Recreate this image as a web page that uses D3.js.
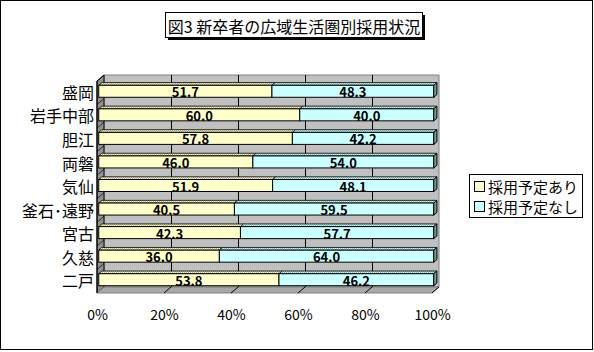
<!DOCTYPE html>
<html><head><meta charset="utf-8">
<script src="https://cdn.jsdelivr.net/npm/d3@7"></script>
<style>
html,body{margin:0;padding:0;background:#fff;}
svg{display:block;}
text{font-family:"Noto Sans CJK JP","Noto Sans",sans-serif;}
</style></head>
<body>
<svg id="c" width="594" height="352"></svg>
<script>
const categories = ["盛岡","岩手中部","胆江","両磐","気仙","釜石･遠野","宮古","久慈","二戸"];
const seriesNames = ["採用予定あり","採用予定なし"];
const withPlan = [51.7,60.0,57.8,46.0,51.9,40.5,42.3,36.0,53.8];
const withoutPlan = [48.3,40.0,42.2,54.0,48.1,59.5,57.7,64.0,46.2];
const xTicks = [0,20,40,60,80,100];
const title = "図3 新卒者の広域生活圏別採用状況";

const colors = ["#FFFFCC","#CCFFFF"];
const topColors = ["#B8B890","#90B8B8"];
const sideColors = ["#A0A07A","#6E9C9C"];

const svg = d3.select("#c");
svg.append("rect").attr("x",0.5).attr("y",0.5).attr("width",592).attr("height",349)
  .attr("fill","#fff").attr("stroke","#000");

const x = d3.scaleLinear().domain([0,100]).range([97,432]);
const y = d3.scaleBand().domain(categories).range([81,293]);
const DX = 7, DY = -6;
const top0 = y.range()[0], bot0 = y.range()[1];

const defs = svg.append("defs");
[0,1].forEach(i=>{
  const p = defs.append("pattern").attr("id","pt"+i).attr("width",2).attr("height",2)
    .attr("patternUnits","userSpaceOnUse");
  p.append("rect").attr("width",2).attr("height",2).attr("fill",colors[i]);
  p.append("rect").attr("width",1).attr("height",1).attr("fill",topColors[i]);
  p.append("rect").attr("x",1).attr("y",1).attr("width",1).attr("height",1).attr("fill",topColors[i]);
});

const poly = pts => "M"+pts.map(p=>p.join(",")).join("L")+"Z";

svg.append("path").attr("d",poly([[x(0)+DX,top0+DY],[x(100)+DX,top0+DY],[x(100)+DX,bot0+DY],[x(0)+DX,bot0+DY]]))
  .attr("fill","#C0C0C0").attr("stroke","#808080");
svg.append("path").attr("d",poly([[x(0),top0],[x(0)+DX,top0+DY],[x(0)+DX,bot0+DY],[x(0),bot0]]))
  .attr("fill","#909090").attr("stroke","#000");
svg.append("path").attr("d",poly([[x(0),bot0],[x(0)+DX,bot0+DY],[x(100)+DX,bot0+DY],[x(100),bot0]]))
  .attr("fill","#A8A8A8").attr("stroke","#808080");
xTicks.slice(1,-1).forEach(t=>{
  svg.append("line").attr("x1",x(t)+DX+0.5).attr("x2",x(t)+DX+0.5)
    .attr("y1",top0+DY).attr("y2",bot0+DY).attr("stroke","#000");
});
xTicks.slice(1).forEach(t=>{
  svg.append("line").attr("x1",x(t)).attr("y1",bot0).attr("x2",x(t)+DX).attr("y2",bot0+DY)
    .attr("stroke","#000");
});
categories.forEach(c=>{
  const yy = y(c);
  svg.append("line").attr("x1",x(0)).attr("y1",yy).attr("x2",x(0)+DX).attr("y2",yy+DY)
    .attr("stroke","#000").attr("stroke-width",0.7);
});
svg.append("line").attr("x1",x(0)).attr("x2",x(0)).attr("y1",top0).attr("y2",bot0).attr("stroke","#000");

const f0 = 0.25, f1 = 0.7;
const bh = 12;
const rows = categories.map((c,i)=>({c, vals:[withPlan[i],withoutPlan[i]]}));
const g = svg.append("g");
rows.forEach(r=>{
  const cy = y(r.c) + y.bandwidth()/2;
  let acc = 0;
  r.vals.forEach((v,si)=>{
    const x0 = x(acc)+DX*f0, x1 = x(acc+v)+DX*f0;
    const yT = cy - bh/2 + DY*f0, yB = cy + bh/2 + DY*f0;
    const ox = DX*(f1-f0), oy = DY*(f1-f0);
    g.append("path").attr("d",poly([[x0,yT],[x0+ox,yT+oy],[x1+ox,yT+oy],[x1,yT]]))
      .attr("fill","url(#pt"+si+")").attr("stroke","#000").attr("stroke-width",0.8);
    g.append("rect").attr("x",x0).attr("y",yT).attr("width",x1-x0).attr("height",bh)
      .attr("fill",colors[si]).attr("stroke","#000").attr("stroke-width",1);
    if(si===1){
      g.append("path").attr("d",poly([[x1,yT],[x1+ox,yT+oy],[x1+ox,yB+oy],[x1,yB]]))
        .attr("fill",sideColors[si]).attr("stroke","#000").attr("stroke-width",1);
    }
    g.append("text").attr("x",(x0+x1)/2).attr("y",cy+DY*f0+0.5)
      .attr("text-anchor","middle").attr("dominant-baseline","central")
      .attr("font-size",13).attr("font-weight","bold").attr("fill","#000")
      .text(v.toFixed(1));
    acc += v;
  });
});

const ya = svg.append("g").attr("transform",`translate(${x(0)-3},1)`)
  .call(d3.axisLeft(y).tickSize(0).tickPadding(0));
ya.select(".domain").remove();
ya.selectAll("text").attr("font-size",16).attr("fill","#000")
  .style("font-family",'"Noto Sans CJK JP",sans-serif');

const xa = svg.append("g").attr("transform",`translate(0,${bot0+14})`)
  .call(d3.axisBottom(x).tickValues(xTicks).tickSize(0).tickFormat(d=>d+"%"));
xa.select(".domain").remove();
xa.selectAll("text").attr("font-size",14).attr("fill","#000")
  .style("font-family",'"Noto Sans CJK JP",sans-serif');

const tb = {x:165,y:12,w:257,h:25};
svg.append("rect").attr("x",tb.x+3).attr("y",tb.y+3).attr("width",tb.w).attr("height",tb.h).attr("fill","#000");
svg.append("rect").attr("x",tb.x+0.5).attr("y",tb.y+0.5).attr("width",tb.w).attr("height",tb.h)
  .attr("fill","#fff").attr("stroke","#000");
svg.append("text").attr("x",tb.x+tb.w/2+0.5).attr("y",tb.y+tb.h/2+1).attr("text-anchor","middle")
  .attr("dominant-baseline","central").attr("font-size",16).attr("fill","#000").text(title);

const lg = svg.append("g").attr("transform","translate(469,174)");
lg.append("rect").attr("x",0.5).attr("y",0.5).attr("width",113).attr("height",43).attr("fill","#fff").attr("stroke","#000");
seriesNames.forEach((n,i)=>{
  const yy = 12 + i*20;
  lg.append("rect").attr("x",5.5).attr("y",yy-4.5).attr("width",10).attr("height",10)
    .attr("fill",colors[i]).attr("stroke","#000");
  lg.append("text").attr("x",19).attr("y",yy+0.5).attr("dominant-baseline","central")
    .attr("font-size",15).attr("fill","#000").text(n);
});
</script>
</body></html>
